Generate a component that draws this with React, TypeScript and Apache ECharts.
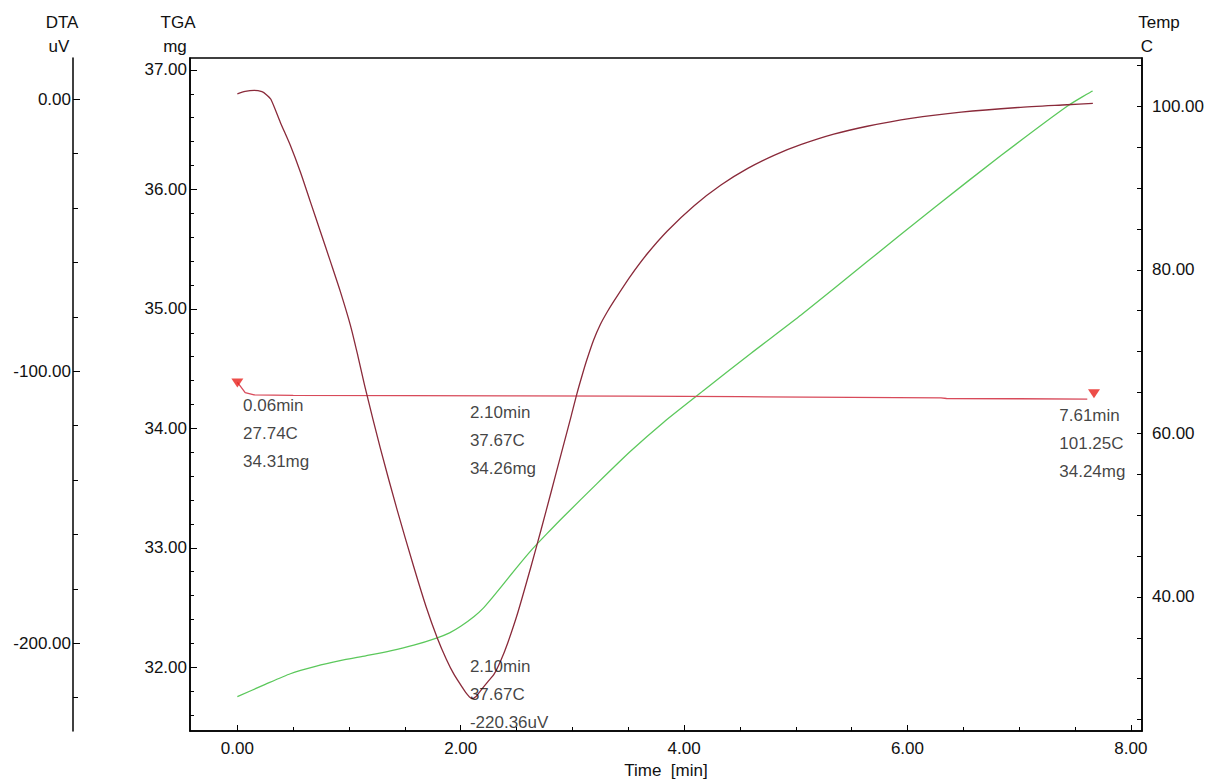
import React, { useEffect, useRef } from "react";
import * as echarts from "echarts";

// ---------- data ----------
// DTA curve (time [min], uV)
const DTA_TIME = [0, 0.07, 0.15, 0.22, 0.26, 0.3, 0.385, 0.475, 0.565, 0.654, 0.744, 0.833, 0.923, 1.013, 1.08, 1.147, 1.28, 1.43, 1.58, 1.69, 1.79, 1.87, 1.94, 2.02, 2.06, 2.1, 2.14, 2.17, 2.24, 2.3, 2.36, 2.42, 2.51, 2.63, 2.72, 2.81, 2.9, 2.99, 3.04, 3.09, 3.13, 3.19, 3.25, 3.31, 3.37, 3.52, 3.67, 3.85, 4.09, 4.33, 4.57, 4.81, 5.05, 5.34, 5.64, 6.03, 6.48, 6.99, 7.43, 7.66];
const DTA_UV = [2.0, 2.9, 3.3, 2.8, 1.7, 0.0, -8.5, -17, -26.8, -37.7, -48.7, -59.6, -70.8, -83.2, -94.5, -106.5, -128.3, -150.9, -172, -186.6, -198.1, -205.8, -211.5, -216.6, -218.9, -220.4, -219.5, -217.9, -214.3, -211.3, -206.3, -200, -188.9, -171.7, -158.2, -144.3, -130.3, -116.3, -108.3, -101.1, -95.7, -88.5, -82.8, -78.3, -74.3, -65.0, -56.8, -48.4, -39.1, -31.5, -25.4, -20.5, -16.6, -12.8, -9.9, -7.0, -4.7, -3.0, -2.0, -1.5];

// TGA curve (time [min], mg)
const TGA_TIME = [0, 0.03, 0.07, 0.15, 0.5, 1.5, 2.5, 3.5, 4.5, 5.5, 6.3, 6.35, 7.0, 7.61];
const TGA_MG = [34.385, 34.35, 34.3, 34.28, 34.276, 34.274, 34.272, 34.27, 34.265, 34.26, 34.255, 34.25, 34.248, 34.245];

// Temperature curve (time [min], C)
const TEMP_TIME = [0, 0.25, 0.475, 0.7, 0.92, 1.15, 1.37, 1.58, 1.79, 1.9, 2.0, 2.12, 2.2, 2.27, 2.36, 2.49, 2.625, 2.77, 2.92, 3.22, 3.52, 3.82, 4.18, 4.6, 5.05, 5.64, 6.24, 6.84, 7.43, 7.66];
const TEMP_C = [27.8, 29.3, 30.6, 31.5, 32.2, 32.8, 33.4, 34.1, 35.0, 35.6, 36.4, 37.6, 38.6, 39.7, 41.2, 43.4, 45.6, 47.7, 49.8, 53.85, 57.8, 61.4, 65.3, 69.8, 74.5, 81.0, 87.6, 94.0, 100.0, 101.9];

// range markers (time, mg)
const MARK_TIME = [0, 7.67];
const MARK_MG = [34.38, 34.29];

// annotations
const ANN_TIME = [0.06, 2.1, 7.61];
const ANN_TEMP = [27.74, 37.67, 101.25];
const ANN_MASS = [34.31, 34.26, 34.24];
const PEAK_TIME = 2.1;
const PEAK_TEMP = 37.67;
const PEAK_UV = -220.36;

// axes
const X_MIN = -0.424;
const X_MAX = 8.1;
const X_MAJOR = [0, 2, 4, 6, 8];
const X_MINOR = [0.5, 1, 1.5, 2.5, 3, 3.5, 4.5, 5, 5.5, 6.5, 7, 7.5];

const TGA_MIN = 31.467;
const TGA_MAX = 37.1;
const TGA_MAJOR = [32, 33, 34, 35, 36, 37];
const TGA_MINOR = [31.6, 31.8, 32.2, 32.4, 32.6, 32.8, 33.2, 33.4, 33.6, 33.8, 34.2, 34.4, 34.6, 34.8, 35.2, 35.4, 35.6, 35.8, 36.2, 36.4, 36.6, 36.8];

const DTA_MIN = -232.3;
const DTA_MAX = 15.2;
const DTA_MAJOR = [-200, -100, 0];
const DTA_MINOR = [-220, -180, -160, -140, -120, -80, -60, -40, -20];

const TEMP_MIN = 23.6;
const TEMP_MAX = 105.9;
const TEMP_MAJOR = [40, 60, 80, 100];
const TEMP_MINOR = [25, 30, 35, 45, 50, 55, 65, 70, 75, 85, 90, 95, 105];

const FONT = "'Liberation Sans', Arial, Helvetica, sans-serif";
const TXT = "#111";

const zip = (a: number[], b: number[]) => a.map((v, i) => [v, b[i]]);
const f2 = (v: number) => v.toFixed(2);

function majorAxis(min: number, max: number, position: string, offset: number, major: number[], tickLen: number, margin: number, extra: any = {}) {
  return {
    type: "value",
    min,
    max,
    position,
    offset,
    axisLine: { show: true, onZero: false, lineStyle: { color: "#000", width: 1.5 } },
    axisTick: { show: true, inside: true, length: tickLen, customValues: major, lineStyle: { color: "#000", width: 1 } },
    axisLabel: { show: true, customValues: major, formatter: (v: number) => f2(v), margin, color: TXT, fontSize: 17, fontFamily: FONT },
    splitLine: { show: false },
    ...extra,
  };
}
function minorAxis(min: number, max: number, position: string, offset: number, minor: number[], tickLen: number) {
  return {
    type: "value",
    min,
    max,
    position,
    offset,
    axisLine: { show: false, onZero: false },
    axisTick: { show: true, inside: true, length: tickLen, customValues: minor, lineStyle: { color: "#000", width: 1 } },
    axisLabel: { show: false },
    splitLine: { show: false },
  };
}

export default function App() {
  const ref = useRef<HTMLDivElement>(null);
  useEffect(() => {
    if (!ref.current) return;
    const chart = echarts.init(ref.current, null, { renderer: "svg" });
    const annText = (i: number) => `${f2(ANN_TIME[i])}min\n${f2(ANN_TEMP[i])}C\n${f2(ANN_MASS[i])}mg`;
    const labelBase = { show: true, color: TXT, fontSize: 17, fontFamily: FONT, lineHeight: 28 };
    const option: any = {
      animation: false,
      backgroundColor: "#fff",
      grid: { left: 190, right: 67, top: 58, bottom: 47, containLabel: false, show: true, borderColor: "#000", borderWidth: 1.5, backgroundColor: "transparent" },
      xAxis: [
        majorAxis(X_MIN, X_MAX, "bottom", 0, X_MAJOR, 6, 9, {
          name: "Time  [min]",
          nameLocation: "middle",
          nameGap: 31,
          nameTextStyle: { color: TXT, fontSize: 17, fontFamily: FONT },
        }),
        minorAxis(X_MIN, X_MAX, "bottom", 0, X_MINOR, 4),
      ],
      yAxis: [
        majorAxis(TGA_MIN, TGA_MAX, "left", 0, TGA_MAJOR, 7, 3),
        minorAxis(TGA_MIN, TGA_MAX, "left", 0, TGA_MINOR, 4),
        majorAxis(DTA_MIN, DTA_MAX, "left", 117, DTA_MAJOR, 7, 2),
        minorAxis(DTA_MIN, DTA_MAX, "left", 117, DTA_MINOR, 5),
        majorAxis(TEMP_MIN, TEMP_MAX, "right", 0, TEMP_MAJOR, 5, 10),
        minorAxis(TEMP_MIN, TEMP_MAX, "right", 0, TEMP_MINOR, 5),
      ],
      series: [
        {
          name: "Temp",
          type: "line",
          xAxisIndex: 0,
          yAxisIndex: 4,
          data: zip(TEMP_TIME, TEMP_C),
          showSymbol: false,
          smooth: 0.2,
          lineStyle: { color: "#5cc85c", width: 1.3 },
          z: 2,
        },
        {
          name: "TGA",
          type: "line",
          xAxisIndex: 0,
          yAxisIndex: 0,
          data: zip(TGA_TIME, TGA_MG),
          showSymbol: false,
          lineStyle: { color: "#d84a5a", width: 1.3 },
          z: 3,
        },
        {
          name: "DTA",
          type: "line",
          xAxisIndex: 0,
          yAxisIndex: 2,
          data: zip(DTA_TIME, DTA_UV),
          showSymbol: false,
          smooth: 0.25,
          lineStyle: { color: "#8a2a3a", width: 1.3 },
          z: 4,
        },
        {
          name: "markers",
          type: "scatter",
          xAxisIndex: 0,
          yAxisIndex: 0,
          symbol: "triangle",
          symbolRotate: 180,
          symbolSize: [12, 9],
          itemStyle: { color: "#e8201c" },
          data: zip(MARK_TIME, MARK_MG),
          z: 5,
        },
        {
          name: "annTGA",
          type: "scatter",
          xAxisIndex: 0,
          yAxisIndex: 0,
          symbolSize: 1,
          itemStyle: { color: "transparent" },
          z: 6,
          data: [
            { value: [ANN_TIME[0], ANN_MASS[0]], label: { ...labelBase, formatter: annText(0), position: "inside", align: "left", verticalAlign: "top", offset: [-1, 0] } },
            { value: [ANN_TIME[1], ANN_MASS[1]], label: { ...labelBase, formatter: annText(1), position: "inside", align: "left", verticalAlign: "top", offset: [-2, 1] } },
            { value: [ANN_TIME[2], ANN_MASS[2]], label: { ...labelBase, formatter: annText(2), position: "inside", align: "left", verticalAlign: "top", offset: [-28, 2] } },
          ],
        },
        {
          name: "annDTA",
          type: "scatter",
          xAxisIndex: 0,
          yAxisIndex: 2,
          symbolSize: 1,
          itemStyle: { color: "transparent" },
          z: 6,
          data: [
            {
              value: [PEAK_TIME, PEAK_UV],
              label: { ...labelBase, formatter: `${f2(PEAK_TIME)}min\n${f2(PEAK_TEMP)}C\n${f2(PEAK_UV)}uV`, position: "inside", align: "left", verticalAlign: "middle", offset: [-2, -4] },
            },
          ],
        },
      ],
      graphic: [
        { type: "text", x: 62, y: 22, style: { text: "DTA", fill: TXT, font: `17px ${FONT}`, align: "center", verticalAlign: "middle" } },
        { type: "text", x: 59, y: 46, style: { text: "uV", fill: TXT, font: `17px ${FONT}`, align: "center", verticalAlign: "middle" } },
        { type: "text", x: 178, y: 22, style: { text: "TGA", fill: TXT, font: `17px ${FONT}`, align: "center", verticalAlign: "middle" } },
        { type: "text", x: 175, y: 46, style: { text: "mg", fill: TXT, font: `17px ${FONT}`, align: "center", verticalAlign: "middle" } },
        { type: "text", x: 1159, y: 22, style: { text: "Temp", fill: TXT, font: `17px ${FONT}`, align: "center", verticalAlign: "middle" } },
        { type: "text", x: 1147, y: 46, style: { text: "C", fill: TXT, font: `17px ${FONT}`, align: "center", verticalAlign: "middle" } },
      ],
    };
    chart.setOption(option);
    return () => chart.dispose();
  }, []);
  return <div ref={ref} style={{ position: "absolute", left: 0, top: 0, width: 1209, height: 784, background: "#fff" }} />;
}
